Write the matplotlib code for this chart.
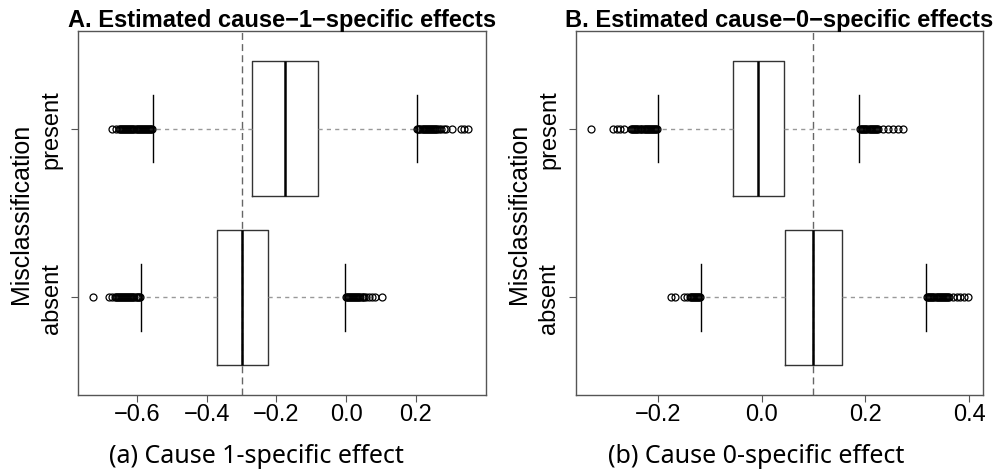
import matplotlib
matplotlib.use("Agg")
import matplotlib.pyplot as plt

# ---- data (positions 1 = absent, 2 = present) ----
groups = ["absent", "present"]

# panel A: cause-1-specific effects
a_q1 = [-0.371, -0.269]
a_med = [-0.298, -0.175]
a_q3 = [-0.223, -0.080]
a_lo = [-0.589, -0.554]
a_hi = [-0.004, 0.202]
a_fliers_absent = [-0.725, -0.680, -0.671, -0.664, -0.661, -0.658, -0.655, -0.652,
                   -0.649, -0.646, -0.643, -0.640, -0.637, -0.634, -0.631, -0.628,
                   -0.625, -0.622, -0.619, -0.616, -0.613, -0.610, -0.607, -0.604,
                   -0.601, -0.598, -0.595, -0.592,
                   -0.001, 0.002, 0.005, 0.008, 0.011, 0.014, 0.017, 0.020, 0.023,
                   0.026, 0.029, 0.032, 0.035, 0.038, 0.041, 0.044, 0.047, 0.050,
                   0.058, 0.066, 0.074, 0.082, 0.102]
a_fliers_present = [-0.672, -0.660, -0.652, -0.649, -0.646, -0.643, -0.640, -0.637,
                    -0.634, -0.631, -0.628, -0.625, -0.622, -0.619, -0.616, -0.613,
                    -0.610, -0.607, -0.604, -0.601, -0.598, -0.595, -0.592, -0.589,
                    -0.586, -0.583, -0.580, -0.577, -0.574, -0.571, -0.568, -0.565,
                    -0.562, -0.559, -0.556,
                    0.204, 0.207, 0.210, 0.213, 0.216, 0.219, 0.222, 0.225, 0.228,
                    0.231, 0.234, 0.237, 0.240, 0.243, 0.246, 0.249, 0.252, 0.255,
                    0.258, 0.261, 0.267, 0.273, 0.280, 0.287, 0.304, 0.328, 0.338,
                    0.350]

# panel B: cause-0-specific effects
b_q1 = [0.046, -0.055]
b_med = [0.100, -0.006]
b_q3 = [0.155, 0.043]
b_lo = [-0.116, -0.200]
b_hi = [0.317, 0.188]
b_fliers_absent = [-0.175, -0.166, -0.150, -0.143, -0.138, -0.136, -0.134, -0.132,
                   -0.130, -0.128, -0.126, -0.124, -0.122, -0.120, -0.118,
                   0.319, 0.321, 0.323, 0.325, 0.327, 0.329, 0.331, 0.333, 0.335,
                   0.337, 0.339, 0.341, 0.343, 0.345, 0.347, 0.349, 0.351, 0.353,
                   0.355, 0.357, 0.359, 0.361, 0.369, 0.376, 0.382, 0.389, 0.398]
b_fliers_present = [-0.329, -0.286, -0.279, -0.272, -0.265,
                    -0.251, -0.249, -0.247, -0.245, -0.243, -0.241, -0.239, -0.237,
                    -0.235, -0.233, -0.231, -0.227, -0.225, -0.223, -0.221, -0.219,
                    -0.217, -0.215, -0.213, -0.211, -0.209, -0.207, -0.205, -0.203,
                    -0.201,
                    0.190, 0.192, 0.194, 0.196, 0.198, 0.200, 0.202, 0.204, 0.206,
                    0.208, 0.210, 0.212, 0.214, 0.216, 0.218, 0.220, 0.222, 0.224,
                    0.234, 0.244, 0.254, 0.263, 0.272]

ref_a = -0.3
ref_b = 0.1

titles = ["A. Estimated cause\u22121\u2212specific effects",
          "B. Estimated cause\u22120\u2212specific effects"]
captions = ["(a) Cause 1-specific effect", "(b) Cause 0-specific effect"]
ylab = "Misclassification"


def make_stats(q1, med, q3, lo, hi, fl):
    out = []
    for i in range(len(q1)):
        out.append(dict(q1=q1[i], med=med[i], q3=q3[i], whislo=lo[i],
                        whishi=hi[i], fliers=fl[i]))
    return out


stats_a = make_stats(a_q1, a_med, a_q3, a_lo, a_hi, [a_fliers_absent, a_fliers_present])
stats_b = make_stats(b_q1, b_med, b_q3, b_lo, b_hi, [b_fliers_absent, b_fliers_present])

plt.rcParams['font.family'] = ['Liberation Sans', 'DejaVu Sans']

fig = plt.figure(figsize=(10.05, 4.77), dpi=100)
ax1 = fig.add_axes([0.0776, 0.1698, 0.406, 0.7631])
ax2 = fig.add_axes([0.5728, 0.1698, 0.4056, 0.7631])

panels = [(ax1, stats_a, ref_a, (-0.769, 0.401), [-0.6, -0.4, -0.2, 0.0, 0.2]),
          (ax2, stats_b, ref_b, (-0.358, 0.427), [-0.2, 0.0, 0.2, 0.4])]

for k, (ax, st, ref, xl, xt) in enumerate(panels):
    ax.axvline(ref, color='#666666', lw=1, dashes=(5, 3), zorder=1)
    ax.bxp(st, positions=[1, 2], widths=0.8, capwidths=0.4,
           orientation='horizontal',
           boxprops=dict(color='#333333', lw=1),
           whiskerprops=dict(color='#999999', lw=1, dashes=(3, 3)),
           capprops=dict(color='black', lw=1),
           medianprops=dict(color='black', lw=1.8),
           flierprops=dict(marker='o', mfc='none', mec='black', ms=5, mew=0.9))
    ax.set_xlim(*xl)
    ax.set_ylim(0.42, 2.58)
    ax.set_xticks(xt)
    ax.set_xticklabels([("%.1f" % v).replace('-', '\u2212') for v in xt])
    ax.set_yticks([1, 2])
    ax.set_yticklabels(groups, rotation=90, va='center')
    ax.tick_params(axis='both', labelsize=17, length=5, width=0.8, color='#555555')
    ax.tick_params(axis='x', pad=1)
    ax.tick_params(axis='y', pad=6)
    for s in ax.spines.values():
        s.set_color('#555555')
        s.set_linewidth(1)
    ax.set_title(titles[k], fontsize=17, fontweight='bold', pad=3)
    ax.set_ylabel(ylab, fontsize=18)
    ax.yaxis.set_label_coords(-0.110, 0.5)

fig.text(0.255, 0.042, captions[0], ha='center', va='center', fontsize=18,
         family=['Noto Sans', 'DejaVu Sans'])
fig.text(0.752, 0.042, captions[1], ha='center', va='center', fontsize=18,
         family=['Noto Sans', 'DejaVu Sans'])

fig.savefig("out.png", dpi=100)
